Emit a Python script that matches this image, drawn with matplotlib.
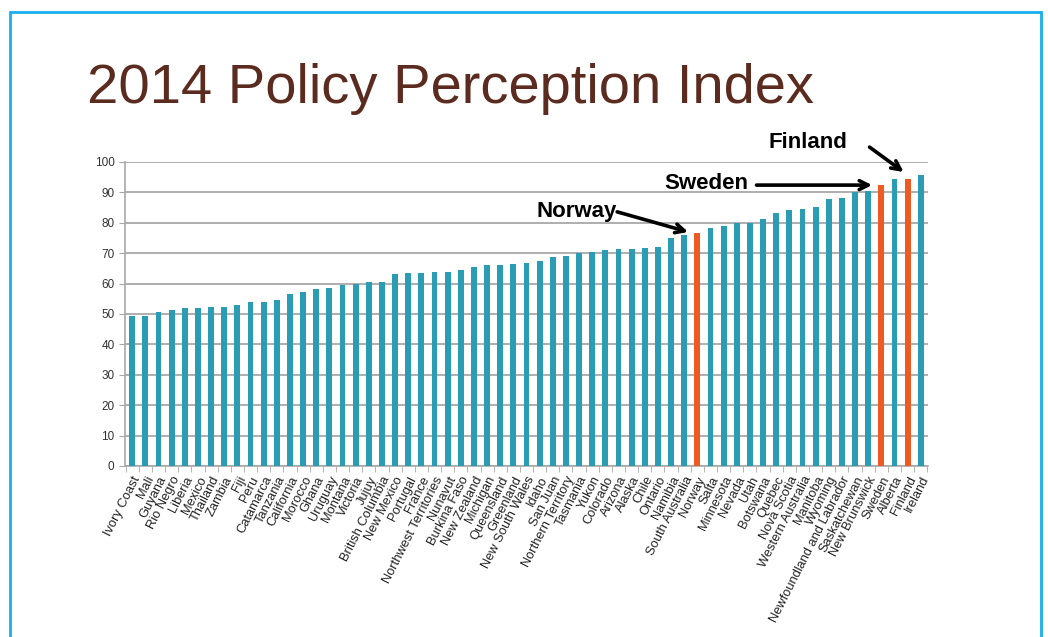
import matplotlib
matplotlib.use("Agg")
import matplotlib.pyplot as plt
from matplotlib.patches import Rectangle
import numpy as np

plt.rcParams['font.family'] = ['Liberation Sans', 'DejaVu Sans']

# 2014 policy perception index, sorted ascending
regions = ["Ivory Coast", "Mali", "Guyana", "Rio Negro", "Liberia", "Mexico", "Thailand",
           "Zambia", "Fiji", "Peru", "Catamarca", "Tanzania", "California", "Morocco",
           "Ghana", "Uruguay", "Montana", "Victoria", "Jujuy", "British Columbia",
           "New Mexico", "Portugal", "France", "Northwest Territories", "Nunavut",
           "Burkina Faso", "New Zealand", "Michigan", "Queensland", "Greenland",
           "New South Wales", "Idaho", "San Juan", "Northern Territory", "Tasmania",
           "Yukon", "Colorado", "Arizona", "Alaska", "Chile", "Ontario", "Namibia",
           "South Australia", "Norway", "Salta", "Minnesota", "Nevada", "Utah",
           "Botswana", "Quebec", "Nova Scotia", "Western Australia", "Manitoba",
           "Wyoming", "Newfoundland and Labrador", "Saskatchewan", "New Brunswick",
           "Sweden", "Alberta", "Finland", "Ireland"]
scores = [49.2, 49.2, 50.8, 51.3, 51.9, 51.9, 52.2, 52.2, 53.0, 53.8, 53.8, 54.6,
          56.5, 57.4, 58.1, 58.4, 59.7, 60.0, 60.4, 60.4, 63.1, 63.4, 63.5, 63.8,
          63.8, 64.5, 65.5, 66.0, 66.1, 66.4, 66.9, 67.3, 68.9, 69.2, 70.2, 70.4,
          70.9, 71.4, 71.4, 71.8, 71.9, 74.9, 76.0, 76.8, 78.4, 78.9, 79.8, 79.9,
          81.4, 83.2, 84.1, 84.6, 85.3, 87.7, 88.3, 90.2, 90.5, 92.4, 94.5, 94.5, 95.8]
highlight = ["Norway", "Sweden", "Finland"]

teal = "#2A9DB5"
orange = "#EE5A24"
colors = [orange if r in highlight else teal for r in regions]

fig = plt.figure(figsize=(10.48, 6.37), dpi=100)
ax = fig.add_axes([125 / 1048, 1 - 466 / 637, 803 / 1048, 304 / 637])

x = np.arange(len(regions))
ax.bar(x, scores, width=0.45, color=colors, zorder=3)

ax.set_xlim(-0.55, len(regions) - 0.45)
ax.set_ylim(0, 100)
ax.set_yticks(np.arange(0, 101, 10))
ax.yaxis.grid(True, color="#A8A8A8", lw=1.3, zorder=0)
ax.set_axisbelow(True)

ax.set_xticks(x)
ax.set_xticklabels(regions, rotation=63, ha="right", rotation_mode="anchor",
                   fontsize=9.3, color="#222222")
ax.set_xticks(np.arange(-0.5, len(regions)), minor=True)
ax.tick_params(axis="x", which="major", length=0, pad=6)
ax.tick_params(axis="x", which="minor", length=4, color="#A8A8A8")
ax.tick_params(axis="y", length=4, color="#A8A8A8", labelsize=8.5, labelcolor="#333333")

for s in ["top", "right"]:
    ax.spines[s].set_visible(False)
for s in ["left", "bottom"]:
    ax.spines[s].set_color("#A8A8A8")
    ax.spines[s].set_linewidth(1.2)

# callouts
arrow = dict(arrowstyle="->", color="black", lw=2.6, mutation_scale=16,
             shrinkA=0, shrinkB=0)
label_kw = dict(ha="center", va="center", fontsize=16, fontweight="bold", clip_on=False)
ax.text(51.4, 106.3, "Finland", **label_kw)
ax.text(43.7, 92.8, "Sweden", **label_kw)
ax.text(33.8, 83.6, "Norway", **label_kw)
ax.annotate("", xy=(58.7, 96.7), xytext=(56.1, 104.9), annotation_clip=False, arrowprops=arrow)
ax.annotate("", xy=(56.3, 92.4), xytext=(47.5, 92.4), annotation_clip=False, arrowprops=arrow)
ax.annotate("", xy=(42.3, 77.0), xytext=(36.9, 83.6), annotation_clip=False, arrowprops=arrow)

fig.text(87 / 1048, 1 - 103 / 637, "2014 Policy Perception Index", fontsize=40.4,
         color="#5A2B1E", ha="left", va="baseline")

fig.add_artist(Rectangle((10 / 1048, -0.05), 1031 / 1048, 1.05 - 12 / 637,
                         transform=fig.transFigure, fill=False, ec="#1AAEEF", lw=2))

fig.savefig("out.png", dpi=100)
